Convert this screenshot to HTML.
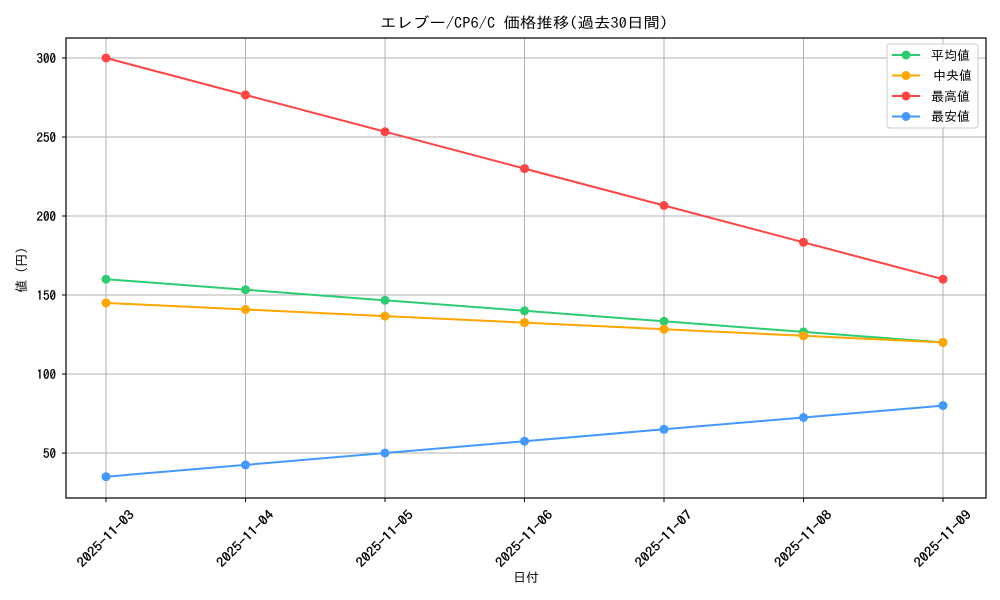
<!DOCTYPE html>
<html><head><meta charset="utf-8"><style>body{margin:0;background:#fff}svg{display:block}text{font-family:"IPAGothic","Noto Sans CJK JP",monospace;fill:#000}</style></head><body>
<svg width="1000" height="600" viewBox="0 0 1000 600">
<rect width="1000" height="600" fill="#fff"/>
<g stroke="#b0b0b0" stroke-width="1">
<line x1="106" y1="38" x2="106" y2="498"/><line x1="245.5" y1="38" x2="245.5" y2="498"/><line x1="385" y1="38" x2="385" y2="498"/><line x1="524.5" y1="38" x2="524.5" y2="498"/><line x1="664" y1="38" x2="664" y2="498"/><line x1="803.5" y1="38" x2="803.5" y2="498"/><line x1="943" y1="38" x2="943" y2="498"/>
<line x1="66" y1="58" x2="986" y2="58"/><line x1="66" y1="137" x2="986" y2="137"/><line x1="66" y1="216" x2="986" y2="216"/><line x1="66" y1="295" x2="986" y2="295"/><line x1="66" y1="374" x2="986" y2="374"/><line x1="66" y1="453" x2="986" y2="453"/>
</g>
<rect x="66" y="38" width="920" height="460" fill="none" stroke="#000" stroke-width="1.2"/>
<g stroke="#000"><line x1="62" y1="58" x2="66" y2="58"/><line x1="62" y1="137" x2="66" y2="137"/><line x1="62" y1="216" x2="66" y2="216"/><line x1="62" y1="295" x2="66" y2="295"/><line x1="62" y1="374" x2="66" y2="374"/><line x1="62" y1="453" x2="66" y2="453"/>
<line x1="106" y1="498" x2="106" y2="502"/><line x1="245.5" y1="498" x2="245.5" y2="502"/><line x1="385" y1="498" x2="385" y2="502"/><line x1="524.5" y1="498" x2="524.5" y2="502"/><line x1="664" y1="498" x2="664" y2="502"/><line x1="803.5" y1="498" x2="803.5" y2="502"/><line x1="943" y1="498" x2="943" y2="502"/></g>
<g font-size="13" text-anchor="end" stroke="#000" stroke-width="0.3"><text x="56" y="63">300</text><text x="56" y="142">250</text><text x="56" y="221">200</text><text x="56" y="300">150</text><text x="56" y="379">100</text><text x="56" y="458">50</text></g>
<g font-size="13" text-anchor="middle" stroke="#000" stroke-width="0.3">
<text transform="translate(106,539) rotate(-45)" y="4" textLength="74" lengthAdjust="spacingAndGlyphs">2025-11-03</text>
<text transform="translate(245.5,539) rotate(-45)" y="4" textLength="74" lengthAdjust="spacingAndGlyphs">2025-11-04</text>
<text transform="translate(385,539) rotate(-45)" y="4" textLength="74" lengthAdjust="spacingAndGlyphs">2025-11-05</text>
<text transform="translate(524.5,539) rotate(-45)" y="4" textLength="74" lengthAdjust="spacingAndGlyphs">2025-11-06</text>
<text transform="translate(664,539) rotate(-45)" y="4" textLength="74" lengthAdjust="spacingAndGlyphs">2025-11-07</text>
<text transform="translate(803.5,539) rotate(-45)" y="4" textLength="74" lengthAdjust="spacingAndGlyphs">2025-11-08</text>
<text transform="translate(943,539) rotate(-45)" y="4" textLength="74" lengthAdjust="spacingAndGlyphs">2025-11-09</text></g>
<text x="526" y="582" font-size="13" text-anchor="middle">日付</text>
<text transform="translate(26,270) rotate(-90)" font-size="13" text-anchor="middle">値 (円)</text>
<text x="524" y="28" font-size="15" text-anchor="middle" textLength="288" lengthAdjust="spacingAndGlyphs">エレブー/CP6/C 価格推移(過去30日間)</text>
<g fill="none" stroke-width="2">
<polyline stroke="#ff4444" points="106,58 245.5,94.9 385,131.7 524.5,168.6 664,205.5 803.5,242.3 943,279.2"/>
<polyline stroke="#2ecc71" points="106,279.2 245.5,289.7 385,300.3 524.5,310.8 664,321.3 803.5,331.9 943,342.4"/>
<polyline stroke="#ffa500" points="106,302.9 245.5,309.5 385,316.1 524.5,322.6 664,329.2 803.5,335.8 943,342.4"/>
<polyline stroke="#4499ff" points="106,476.7 245.5,464.9 385,453 524.5,441.2 664,429.3 803.5,417.5 943,405.6"/>
</g>
<g fill="#ff4444"><circle cx="106" cy="58" r="4.5"/><circle cx="245.5" cy="94.9" r="4.5"/><circle cx="385" cy="131.7" r="4.5"/><circle cx="524.5" cy="168.6" r="4.5"/><circle cx="664" cy="205.5" r="4.5"/><circle cx="803.5" cy="242.3" r="4.5"/><circle cx="943" cy="279.2" r="4.5"/></g>
<g fill="#2ecc71"><circle cx="106" cy="279.2" r="4.5"/><circle cx="245.5" cy="289.7" r="4.5"/><circle cx="385" cy="300.3" r="4.5"/><circle cx="524.5" cy="310.8" r="4.5"/><circle cx="664" cy="321.3" r="4.5"/><circle cx="803.5" cy="331.9" r="4.5"/><circle cx="943" cy="342.4" r="4.5"/></g>
<g fill="#ffa500"><circle cx="106" cy="302.9" r="4.5"/><circle cx="245.5" cy="309.5" r="4.5"/><circle cx="385" cy="316.1" r="4.5"/><circle cx="524.5" cy="322.6" r="4.5"/><circle cx="664" cy="329.2" r="4.5"/><circle cx="803.5" cy="335.8" r="4.5"/><circle cx="943" cy="342.4" r="4.5"/></g>
<g fill="#4499ff"><circle cx="106" cy="476.7" r="4.5"/><circle cx="245.5" cy="464.9" r="4.5"/><circle cx="385" cy="453" r="4.5"/><circle cx="524.5" cy="441.2" r="4.5"/><circle cx="664" cy="429.3" r="4.5"/><circle cx="803.5" cy="417.5" r="4.5"/><circle cx="943" cy="405.6" r="4.5"/></g>
<rect x="887" y="44" width="91" height="84" rx="3" fill="#fff" fill-opacity="0.8" stroke="#ccc"/>
<g stroke-width="2"><line x1="892" y1="55" x2="920" y2="55" stroke="#2ecc71"/><line x1="892" y1="75.5" x2="920" y2="75.5" stroke="#ffa500"/><line x1="892" y1="96" x2="920" y2="96" stroke="#ff4444"/><line x1="892" y1="116.5" x2="920" y2="116.5" stroke="#4499ff"/></g>
<circle cx="906" cy="55" r="4.5" fill="#2ecc71"/><circle cx="906" cy="75.5" r="4.5" fill="#ffa500"/><circle cx="906" cy="96" r="4.5" fill="#ff4444"/><circle cx="906" cy="116.5" r="4.5" fill="#4499ff"/>
<g font-size="13"><text x="931" y="60">平均値</text><text x="933" y="80">中央値</text><text x="931" y="101">最高値</text><text x="931" y="121">最安値</text></g>
</svg>
</body></html>
